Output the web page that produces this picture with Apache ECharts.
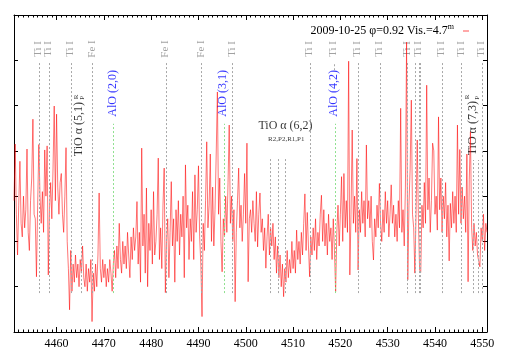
<!DOCTYPE html>
<html><head><meta charset="utf-8">
<script src="https://cdn.jsdelivr.net/npm/echarts@6/dist/echarts.min.js"></script>
<style>html,body{margin:0;padding:0;background:#fff}#c{width:509px;height:356px}</style>
</head><body><div id="c"></div>
<script>
const lambdaStart = 4451, lambdaStep = 0.25;
const flux = [
 2.9,4.15,2.6,1.7,2.8,3.77,2.4,2.1,3.0,2.3,2.7,4.04,2.2,1.8,2.9,3.4,4.70,2.6,2.5,1.22,
 2.8,4.14,3.0,2.4,3.1,2.2,4.02,3.0,4.11,1.26,2.7,3.3,2.5,3.6,4.99,2.9,4.81,3.2,2.6,3.3,
 3.5,2.6,2.2,3.0,4.07,2.0,1.4,0.49,1.8,0.9,1.5,1.1,1.7,1.2,1.5,1.0,1.6,1.3,1.9,1.2,
 1.0,1.5,0.9,1.4,1.1,1.6,0.23,1.3,0.9,1.5,1.0,1.7,3.07,1.4,1.1,1.6,1.2,1.5,1.0,1.4,
 1.1,1.6,1.3,0.9,1.5,1.8,1.2,1.9,1.4,2.4,1.6,1.3,2.0,1.5,1.9,1.4,2.2,1.7,1.2,2.1,
 1.6,2.3,1.8,2.1,2.88,1.5,2.2,1.1,4.06,1.9,2.6,1.3,3.18,1.0,2.4,1.8,2.7,1.5,3.1,1.7,
 2.0,2.6,3.84,1.6,2.3,1.4,2.8,3.62,0.87,2.0,2.5,1.2,2.2,3.32,1.9,2.5,1.1,2.7,2.0,2.9,
 1.7,2.6,2.1,3.0,1.2,3.69,2.3,2.8,1.6,2.5,2.0,3.1,1.6,3.47,2.2,2.7,3.67,2.1,1.5,0.34,
 2.4,1.8,2.9,4.2,2.3,2.8,3.93,2.0,3.2,1.9,2.7,3.93,5.3,2.6,3.4,2.0,1.33,2.5,2.1,3.0,
 2.2,3.3,4.57,2.4,3.0,2.0,2.7,0.67,2.2,2.9,3.62,2.3,2.8,2.0,2.6,3.5,2.4,4.17,1.11,2.5,
 2.7,2.2,2.9,2.4,2.0,3.1,1.88,2.6,3.07,2.2,2.5,1.8,2.3,1.41,2.1,2.6,1.7,2.3,1.9,2.4,
 1.6,2.1,1.3,1.9,1.2,1.7,1.0,1.5,0.78,1.4,1.1,1.8,1.2,1.6,1.3,2.0,1.4,1.8,1.3,2.25,
 1.6,2.0,1.5,2.2,1.7,2.4,3.05,1.8,2.64,1.9,1.22,2.1,1.7,2.3,1.8,2.5,1.6,2.2,1.9,2.6,
 3.02,2.0,2.7,1.9,2.4,1.7,2.6,2.0,2.3,1.6,2.5,1.8,0.89,2.2,2.8,1.9,2.6,3.43,2.0,3.5,
 2.3,2.9,2.2,5.98,1.26,2.6,4.46,2.4,3.0,2.2,3.83,1.37,2.7,2.2,3.1,2.4,2.9,2.1,4.13,2.5,
 2.9,2.3,3.0,2.0,1.59,2.5,2.1,2.8,2.3,3.28,2.4,2.0,2.7,2.2,3.1,2.4,2.9,2.1,2.6,3.25,
 2.4,2.8,2.1,2.6,2.0,2.9,2.3,4.94,2.2,2.7,1.9,3.2,6.4,1.15,2.8,3.6,5.12,2.6,2.3,1.3,
 2.6,4.24,2.5,1.37,1.32,2.8,2.3,3.3,2.4,5.45,2.7,3.4,2.2,2.9,4.17,4.0,2.6,3.0,2.25,4.75,
 2.7,3.4,2.2,3.0,2.5,3.3,2.1,2.8,1.57,2.84,2.3,3.1,2.4,3.0,2.2,4.57,2.6,4.03,2.4,3.2,
 2.5,3.0,2.2,3.93,1.11,3.36,4.42,2.3,1.8,2.4,1.9,2.2,1.7,1.66,1.44,2.3,2.0,2.6,1.8,2.4,2.2
];
const xTickLabels = [4460,4470,4480,4490,4500,4510,4520,4530,4540,4550];
const xMin = 4451, xMax = 4551;

// atomic lines (wavelength, label)
const atomLines = [
 [4456.35,'Ti I'],[4458.46,'Ti I'],[4463.11,'Ti I'],[4467.64,'Fe I'],[4483.20,'Fe I'],
 [4490.68,'Fe I'],[4497.24,'Ti I'],[4513.68,'Ti I'],[4523.79,'Ti I'],[4528.42,'Ti I'],
 [4534.21,'Ti I'],[4535.78,''],[4536.69,'Ti I'],[4536.98,''],[4541.53,'Ti I'],
 [4545.63,'Ti I'],[4549.90,'Ti I']
];
const shortTiLine = [4518.76,'Ti I'];
const alo = [[4472.02,'AlO (2,0)'],[4495.40,'AlO (3,1)'],[4518.86,'AlO (4,2)']];
const tio51Lines = [4465.31];
const tio62Lines = [4505.23,4506.92,4508.29];
const tio73Lines = [4548.15,4549.10];

const serif = "'Liberation Serif','DejaVu Serif',serif";
const seriesName = '2009-10-25 φ=0.92 Vis.=4.7m';

const grayStyle = {color:'#a8a8a8', type:[2,2], width:1};
const greenStyle = {color:'#8fe08f', type:[2,2], width:1};
const seg = (x,y1,y2,style)=>[{coord:[x,y1],lineStyle:style},{coord:[x,y2]}];

const mark = [];
atomLines.forEach(l=>mark.push(seg(l[0],0.86,5.95,grayStyle)));
mark.push(seg(shortTiLine[0],5.78,5.95,grayStyle));
tio51Lines.forEach(x=>mark.push(seg(x,0.86,3.8,grayStyle)));
tio62Lines.forEach(x=>mark.push(seg(x,0.86,3.84,grayStyle)));
tio73Lines.forEach(x=>mark.push(seg(x,0.86,3.8,grayStyle)));
alo.forEach(l=>mark.push(seg(l[0],0.86,4.6,greenStyle)));

function txt(x,y,text,opts){
  return {value:[x,y], name:text, label:Object.assign({show:true, formatter:text, position:'inside',
    align:'center', verticalAlign:'middle', fontFamily:serif, fontSize:11, color:'#8a8a8a'}, opts||{})};
}
const texts = [];
atomLines.filter(l=>l[1]).forEach(l=>texts.push(txt(l[0]-0.2,6.25,l[1],{rotate:90})));
texts.push(txt(shortTiLine[0]-0.2,6.25,shortTiLine[1],{rotate:90}));
alo.forEach(l=>texts.push(txt(l[0]-0.15,5.27,l[1],{rotate:90,color:'#0000ff',fontSize:12})));
texts.push(txt(4464.64,4.48,'TiO α (5,1)',{rotate:90,color:'#000',fontSize:12}));
texts.push(txt(4464.04,5.19,'R',{rotate:90,color:'#000',fontSize:7}));
texts.push(txt(4465.31,5.17,'P',{rotate:90,color:'#000',fontSize:7}));
texts.push(txt(4547.93,4.50,'TiO α (7,3)',{rotate:90,color:'#000',fontSize:12}));
texts.push(txt(4546.84,5.19,'R',{rotate:90,color:'#000',fontSize:7}));
texts.push(txt(4548.82,5.17,'P',{rotate:90,color:'#000',fontSize:7}));
texts.push(txt(4508.4,4.56,'TiO α (6,2)',{color:'#000',fontSize:12}));
texts.push(txt(4508.57,4.25,'R2,P2,R1,P1',{color:'#000',fontSize:7}));

const minorTicks = [];
for (let v=xMin; v<=xMax; v++) minorTicks.push(v);

function xAx(pos, major){
  return {type:'value', min:xMin, max:xMax, position:pos,
    axisLine:{show:major, lineStyle:{color:'#000',width:1}},
    axisTick:{show:true, inside:true, length: major?5:2.5, customValues: major?xTickLabels:minorTicks, lineStyle:{color:'#000',width:1}},
    axisLabel:{show: major && pos==='bottom', customValues:xTickLabels, formatter:(v)=>String(v),
      fontFamily:serif, fontSize:12, color:'#000', margin:6},
    splitLine:{show:false}};
}
function yAx(pos){
  return {type:'value', min:0, max:7, interval:1, position:pos,
    axisLine:{show:true, lineStyle:{color:'#000',width:1}},
    axisTick:{show:true, inside:true, length:4, lineStyle:{color:'#000'}},
    axisLabel:{show:false}, splitLine:{show:false}};
}

const chart = echarts.init(document.getElementById('c'), null, {renderer:'canvas'});
chart.setOption({
  animation:false,
  backgroundColor:'#fff',
  grid:{left:14, right:22, top:15, bottom:24, containLabel:false},
  xAxis:[xAx('bottom',true), xAx('bottom',false), xAx('top',true), xAx('top',false)],
  yAxis:[yAx('left'), yAx('right')],
  legend:{data:[seriesName], right:35, top:18, align:'right', icon:'rect', itemWidth:6, itemHeight:1.5,
    itemGap:0, selectedMode:false,
    formatter:()=> '2009-10-25 φ=0.92 Vis.=4.7{s|m}',
    textStyle:{fontFamily:serif, fontSize:12, color:'#000', padding:[0,4,0,0],
      rich:{s:{fontFamily:serif, fontSize:8, color:'#000', padding:[0,0,8,0]}}}},
  series:[
    {type:'scatter', name:'annot', xAxisIndex:0, yAxisIndex:0, symbolSize:0, silent:true, z:1,
      data:texts,
      markLine:{silent:true, symbol:['none','none'], label:{show:false}, animation:false, data:mark}},
    {type:'line', name:seriesName, xAxisIndex:0, yAxisIndex:0, z:3, showSymbol:false, symbol:'none',
      lineStyle:{color:'rgba(255,0,0,0.6)', width:0.9}, itemStyle:{color:'rgba(255,90,90,0.7)'},
      data: flux.map((v,i)=>[lambdaStart + i*lambdaStep, v])}
  ]
});
</script></body></html>
